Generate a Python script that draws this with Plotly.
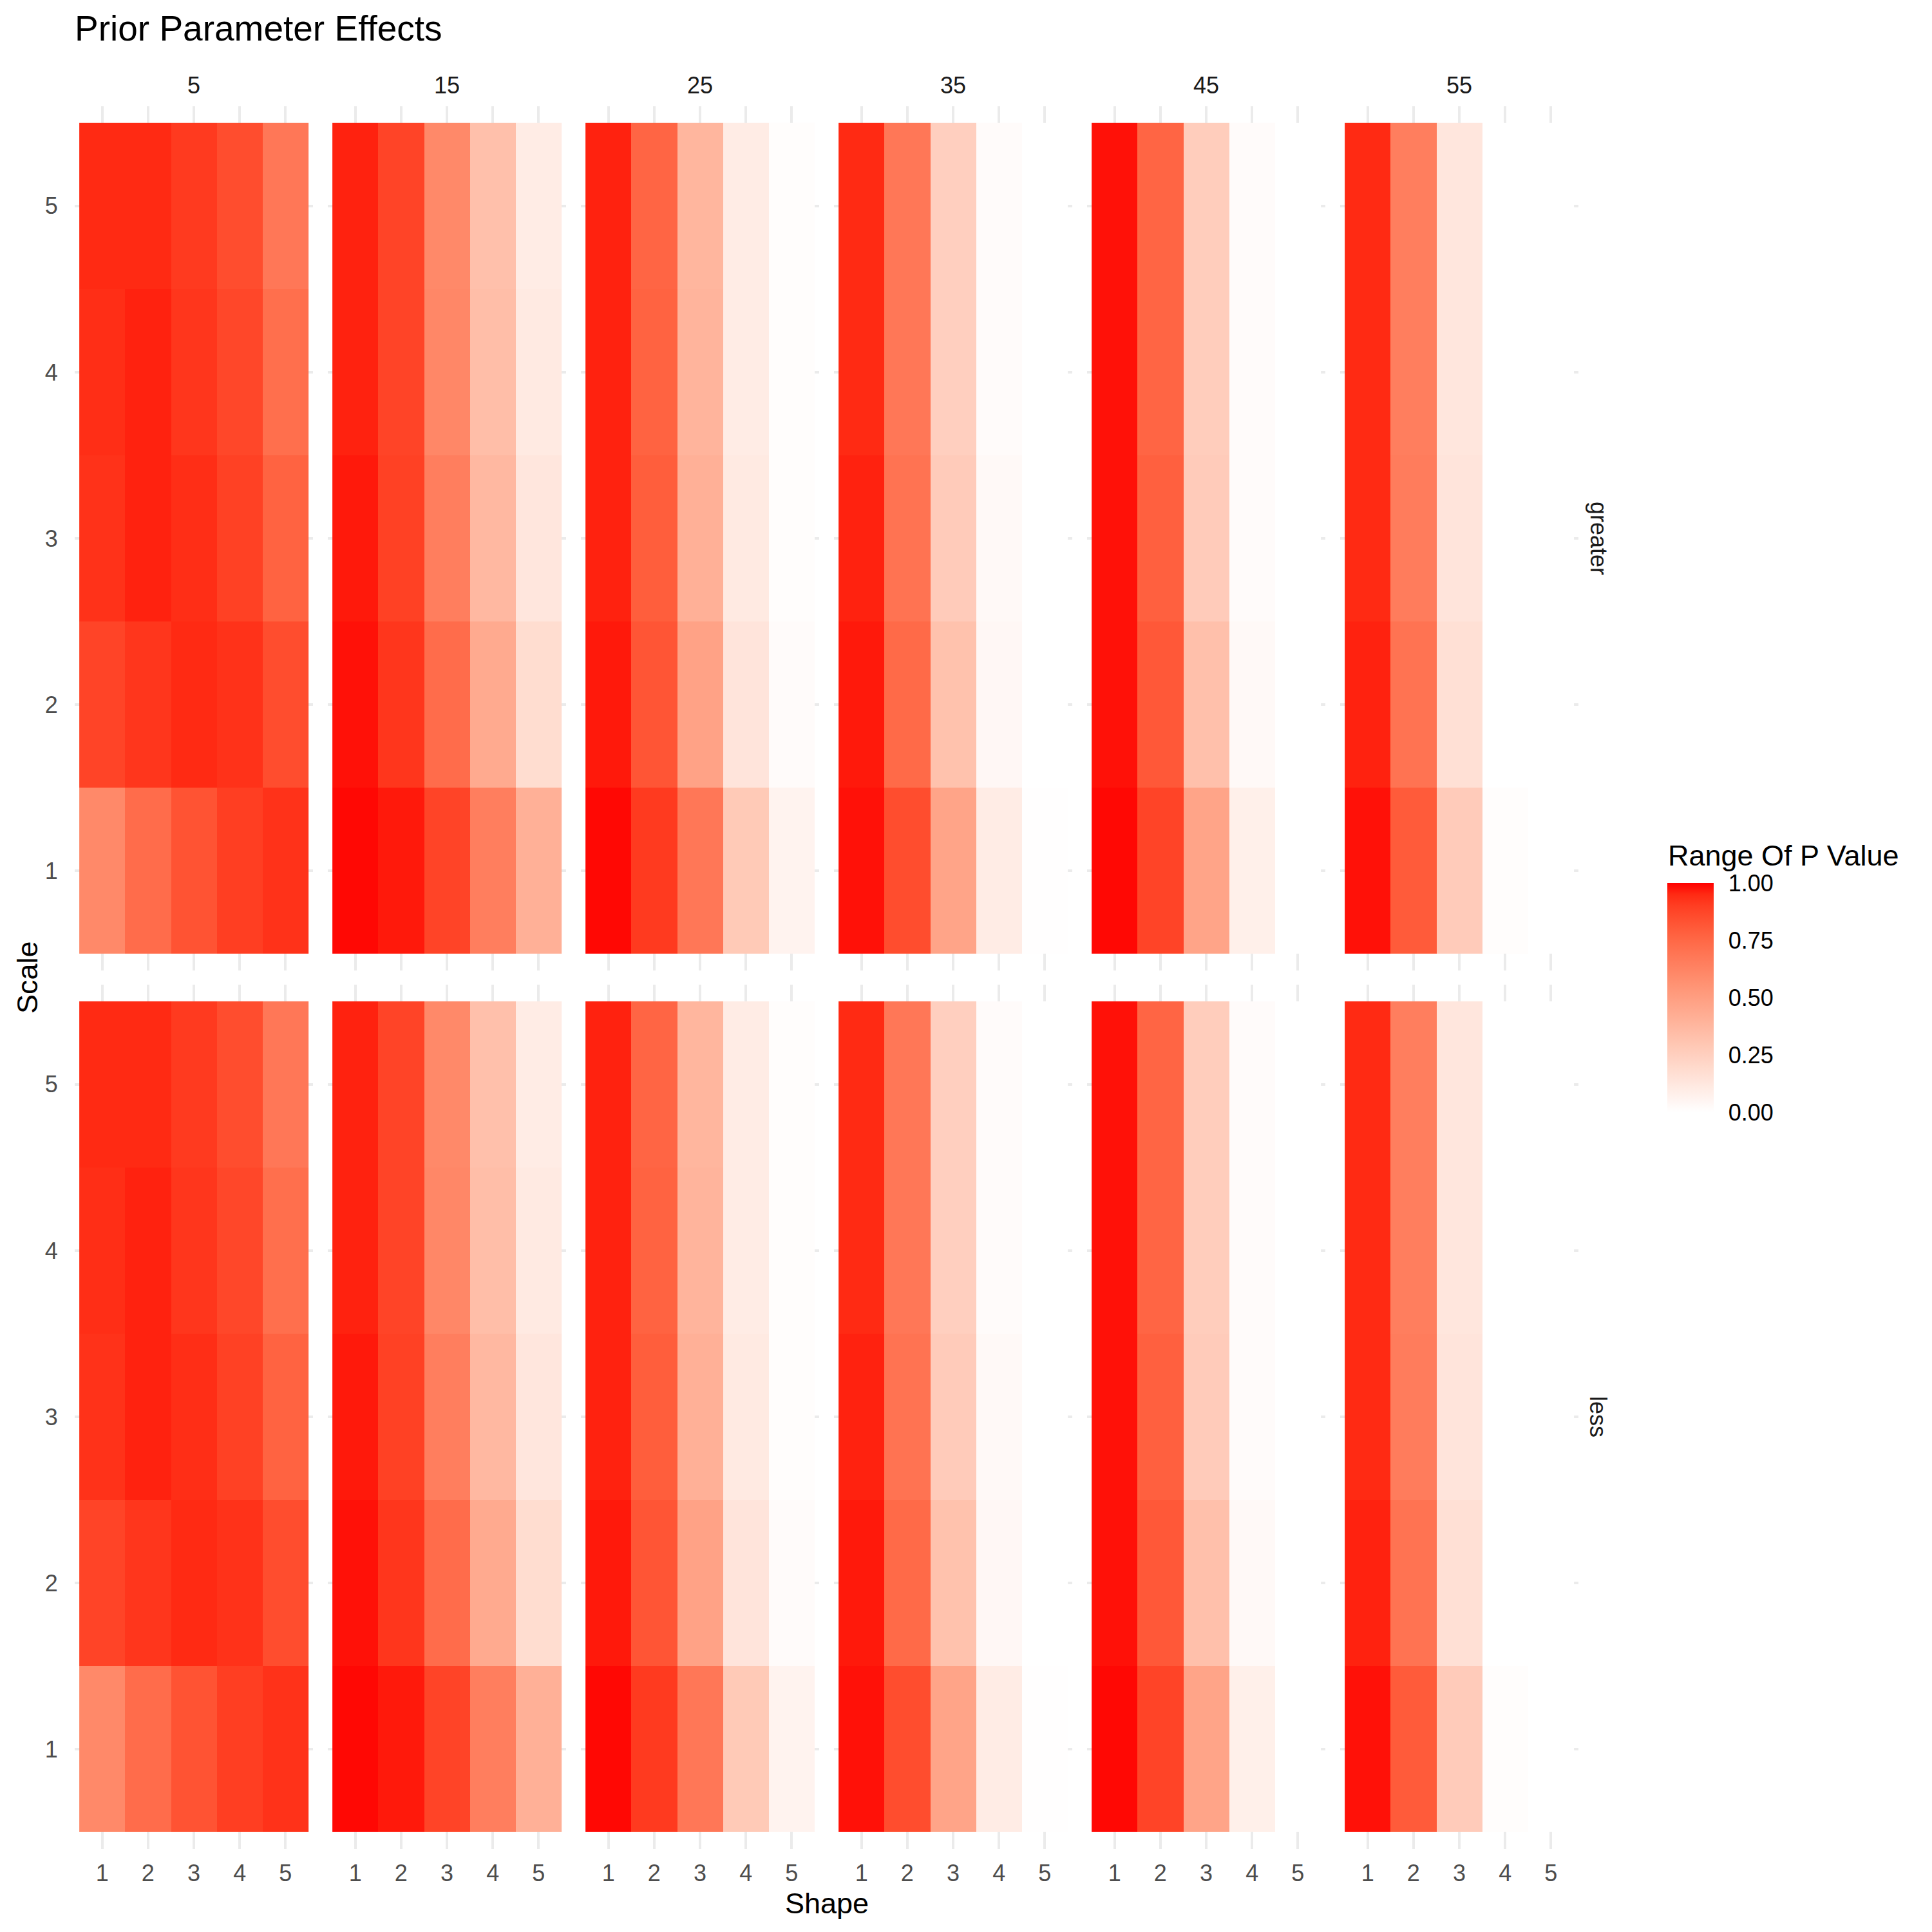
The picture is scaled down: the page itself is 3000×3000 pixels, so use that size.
import numpy as np
import plotly.graph_objects as go

# ---------------- data ----------------
alpha_levels = ["5", "15", "25", "35", "45", "55"]
hypotheses = ["greater", "less"]
shape_vals = [1, 2, 3, 4, 5]
scale_vals = [1, 2, 3, 4, 5]

# rows = scale 1..5, cols = shape 1..5
p_5 = [
    [0.60, 0.73, 0.83, 0.90, 0.93],
    [0.88, 0.92, 0.95, 0.93, 0.85],
    [0.93, 0.96, 0.94, 0.89, 0.77],
    [0.94, 0.96, 0.92, 0.87, 0.72],
    [0.95, 0.95, 0.91, 0.85, 0.68],
]
p_15 = [
    [0.99, 0.97, 0.88, 0.65, 0.41],
    [0.98, 0.92, 0.73, 0.44, 0.18],
    [0.97, 0.89, 0.65, 0.37, 0.13],
    [0.96, 0.88, 0.61, 0.34, 0.11],
    [0.96, 0.88, 0.60, 0.33, 0.10],
]
p_25 = [
    [0.99, 0.91, 0.68, 0.28, 0.06],
    [0.97, 0.82, 0.48, 0.14, 0.02],
    [0.96, 0.79, 0.41, 0.11, 0.01],
    [0.96, 0.77, 0.39, 0.10, 0.01],
    [0.96, 0.76, 0.38, 0.10, 0.01],
]
p_35 = [
    [0.98, 0.85, 0.47, 0.10, 0.005],
    [0.97, 0.74, 0.32, 0.04, 0.0],
    [0.96, 0.70, 0.27, 0.03, 0.0],
    [0.95, 0.68, 0.25, 0.02, 0.0],
    [0.95, 0.68, 0.25, 0.02, 0.0],
]
p_45 = [
    [0.99, 0.88, 0.47, 0.08, 0.0],
    [0.98, 0.81, 0.33, 0.03, 0.0],
    [0.98, 0.78, 0.27, 0.02, 0.0],
    [0.98, 0.76, 0.26, 0.02, 0.0],
    [0.98, 0.76, 0.26, 0.02, 0.0],
]
p_55 = [
    [0.98, 0.80, 0.27, 0.01, 0.0],
    [0.96, 0.70, 0.16, 0.0, 0.0],
    [0.95, 0.66, 0.14, 0.0, 0.0],
    [0.95, 0.65, 0.13, 0.0, 0.0],
    [0.95, 0.65, 0.13, 0.0, 0.0],
]
greater_values = [p_5, p_15, p_25, p_35, p_45, p_55]
less_values = [p_5, p_15, p_25, p_35, p_45, p_55]
values_by_hyp = {"greater": greater_values, "less": less_values}

colorbar_ticks = [0.0, 0.25, 0.5, 0.75, 1.0]
colorbar_ticktext = ["0.00", "0.25", "0.50", "0.75", "1.00"]

# ---------------- colour scale (Lab interpolation white -> red, like ggplot) ----------------
def lab_to_rgb(L, a, b):
    fy = (L + 16) / 116
    fx = fy + a / 500
    fz = fy - b / 200
    def finv(t):
        return t ** 3 if t ** 3 > 0.008856 else (t - 16 / 116) / 7.787
    X = 0.95047 * finv(fx)
    Y = 1.0 * finv(fy)
    Z = 1.08883 * finv(fz)
    r = 3.2406 * X - 1.5372 * Y - 0.4986 * Z
    g = -0.9689 * X + 1.8758 * Y + 0.0415 * Z
    bb = 0.0557 * X - 0.2040 * Y + 1.0570 * Z
    out = []
    for c in (r, g, bb):
        c = min(max(c, 0.0), 1.0)
        c = 1.055 * c ** (1 / 2.4) - 0.055 if c > 0.0031308 else 12.92 * c
        out.append(int(round(min(max(c, 0), 1) * 255)))
    return out

white_lab = (100.0, 0.0, 0.0)
red_lab = (53.2408, 80.0925, 67.2032)
colorscale = []
for t in np.linspace(0, 1, 21):
    L = white_lab[0] + (red_lab[0] - white_lab[0]) * t
    A = white_lab[1] + (red_lab[1] - white_lab[1]) * t
    B = white_lab[2] + (red_lab[2] - white_lab[2]) * t
    r, g, b = lab_to_rgb(L, A, B)
    colorscale.append([float(t), f"rgb({r},{g},{b})"])

# ---------------- layout geometry ----------------
W = H = 3000
panel_x0 = 116
panel_w = 370
gap = 23
row_y0 = [165, 1529]   # top pixel of each facet row
panel_h = 1342

def px_x(p):
    return p / W

def px_y(p):
    return 1 - p / H

fig = go.Figure()
axis_font = dict(family="Liberation Sans, Arial, sans-serif", size=36, color="#4D4D4D")

for r, hyp in enumerate(hypotheses):
    for c, alpha in enumerate(alpha_levels):
        idx = r * len(alpha_levels) + c + 1
        xa = "x" if idx == 1 else f"x{idx}"
        ya = "y" if idx == 1 else f"y{idx}"
        fig.add_trace(go.Heatmap(
            x=shape_vals, y=scale_vals, z=values_by_hyp[hyp][c],
            coloraxis="coloraxis", xaxis=xa, yaxis=ya,
            hovertemplate="Shape %{x}<br>Scale %{y}<br>%{z}<extra></extra>",
        ))
        x0 = panel_x0 + c * (panel_w + gap)
        y0 = row_y0[r]
        xkey = "xaxis" if idx == 1 else f"xaxis{idx}"
        ykey = "yaxis" if idx == 1 else f"yaxis{idx}"
        fig.layout[xkey] = dict(
            domain=[px_x(x0), px_x(x0 + panel_w)],
            anchor=ya, range=[0.4, 5.6], tickvals=shape_vals,
            showticklabels=(r == 1), showgrid=True, gridcolor="#EBEBEB", gridwidth=3.5,
            zeroline=False, showline=False, ticks="outside" if r == 1 else "",
            ticklen=6, tickcolor="rgba(0,0,0,0)", tickfont=axis_font, fixedrange=True,
        )
        fig.layout[ykey] = dict(
            domain=[px_y(y0 + panel_h), px_y(y0)],
            anchor=xa, range=[0.4, 5.6], tickvals=scale_vals,
            showticklabels=(c == 0), showgrid=True, gridcolor="#EBEBEB", gridwidth=3.5,
            zeroline=False, showline=False, ticks="outside" if c == 0 else "",
            ticklen=18, tickcolor="rgba(0,0,0,0)", tickfont=axis_font, fixedrange=True,
        )

annotations = []
strip_font = dict(family="Liberation Sans, Arial, sans-serif", size=36, color="#1A1A1A")
for c, alpha in enumerate(alpha_levels):
    x0 = panel_x0 + c * (panel_w + gap)
    annotations.append(dict(
        text=alpha, x=px_x(x0 + panel_w / 2), y=px_y(132), xref="paper", yref="paper",
        showarrow=False, xanchor="center", yanchor="middle", font=strip_font,
    ))
right_edge = panel_x0 + 6 * panel_w + 5 * gap
for r, hyp in enumerate(hypotheses):
    annotations.append(dict(
        text=hyp, x=px_x(2482), y=px_y(row_y0[r] + panel_h / 2), xref="paper", yref="paper",
        showarrow=False, xanchor="center", yanchor="middle", textangle=90, font=strip_font,
    ))
title_font = dict(family="Liberation Sans, Arial, sans-serif", size=45, color="black")
annotations.append(dict(
    text="Shape", x=px_x((panel_x0 + right_edge) / 2), y=px_y(2955), xref="paper", yref="paper",
    showarrow=False, xanchor="center", yanchor="middle", font=title_font,
))
annotations.append(dict(
    text="Scale", x=px_x(42), y=px_y((row_y0[0] + row_y0[1] + panel_h) / 2), xref="paper", yref="paper",
    showarrow=False, xanchor="center", yanchor="middle", textangle=-90, font=title_font,
))
annotations.append(dict(
    text="Range Of P Value", x=px_x(2588), y=px_y(1328), xref="paper", yref="paper",
    showarrow=False, xanchor="left", yanchor="middle", font=title_font,
))
annotations.append(dict(
    text="Prior Parameter Effects", x=px_x(114), y=px_y(44), xref="paper", yref="paper",
    showarrow=False, xanchor="left", yanchor="middle",
    font=dict(family="Liberation Sans, Arial, sans-serif", size=55, color="black"),
))

fig.update_layout(
    width=W, height=H,
    margin=dict(l=0, r=0, t=0, b=0),
    paper_bgcolor="white", plot_bgcolor="white",
    showlegend=False,
    annotations=annotations,
    coloraxis=dict(
        colorscale=colorscale, cmin=0, cmax=1,
        colorbar=dict(
            x=px_x(2589), xanchor="left", xref="paper",
            y=px_y(1549), yanchor="middle", yref="paper",
            len=356, lenmode="pixels", thickness=72, thicknessmode="pixels",
            outlinewidth=0, tickvals=colorbar_ticks, ticktext=colorbar_ticktext,
            ticks="outside", ticklen=16, tickcolor="rgba(0,0,0,0)", tickwidth=2,
            tickfont=dict(family="Liberation Sans, Arial, sans-serif", size=36, color="black"),
            ypad=0, xpad=0,
        ),
    ),
)

fig.write_html("out.html")
